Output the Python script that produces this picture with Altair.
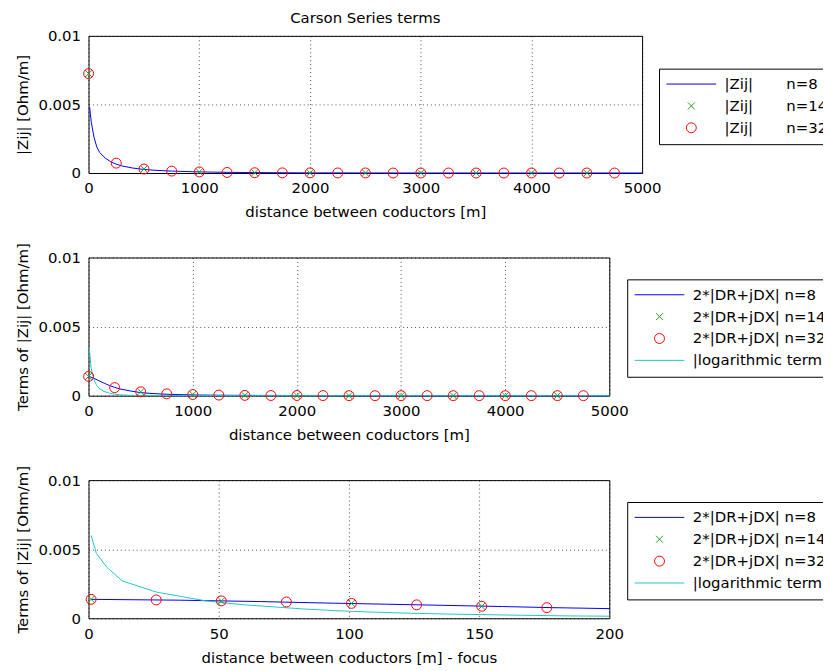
import altair as alt
import pandas as pd

FONT = "DejaVu Sans"
NB = "\u00a0"

# ---------------- Panel 1 : |Zij| ----------------
p1_line_x = [10, 25, 50, 75, 100, 150, 200, 250, 300, 400, 500, 600, 750, 1000, 1250, 1500, 2000, 3000, 5000]
p1_line_y = [0.0048, 0.0037, 0.0026, 0.0019, 0.0015, 0.0011, 0.00082, 0.00065, 0.00052, 0.00036, 0.00026,
             0.0002, 0.00014, 0.00008, 0.00005, 0.00003, 0.00001, 0.0, 0.0]
p1_x14_x = [1, 501, 1001, 1501, 2001, 2501, 3001, 3501, 4001, 4501]
p1_x14_y = [0.00725, 0.00029, 0.00008, 0.00002, 0.00001, 0.000005, 0.0, 0.0, 0.0, 0.0]
p1_o32_x = [1, 251, 501, 751, 1001, 1251, 1501, 1751, 2001, 2251, 2501, 2751, 3001, 3251, 3501, 3751,
            4001, 4251, 4501, 4751]
p1_o32_y = [0.00725, 0.00072, 0.00029, 0.00014, 0.00008, 0.00004, 0.00002, 0.00001, 0.00001, 0.000005,
            0.000005, 0.0, 0.0, 0.0, 0.0, 0.0, 0.0, 0.0, 0.0, 0.0]
p1_labels = ["|Zij|" + NB * 7 + "n=8", "|Zij|" + NB * 7 + "n=14", "|Zij|" + NB * 7 + "n=32"]

# ---------------- Panel 2 : terms ----------------
p2_line_x = [8, 50, 100, 150, 200, 250, 300, 400, 500, 600, 750, 1000, 1250, 1500, 2000, 3000, 5000]
p2_line_y = [0.00138, 0.00126, 0.00108, 0.0009, 0.00074, 0.0006, 0.00049, 0.00034, 0.00022, 0.00016,
             0.0001, 0.00005, 0.00003, 0.00002, 0.00001, 0.0, 0.0]
p2_log_x = [8, 25, 50, 75, 100, 150, 200, 250, 300, 400, 500, 750, 1000, 5000]
p2_log_y = [0.0034, 0.0020, 0.0012, 0.0008, 0.00053, 0.0003, 0.00018, 0.00011, 0.00006, 0.00002,
            0.00001, 0.0, 0.0, 0.0]
p2_x14_x = p1_x14_x
p2_x14_y = [0.00139, 0.00028, 0.00008, 0.00002, 0.00001, 0.0, 0.0, 0.0, 0.0, 0.0]
p2_o32_x = p1_o32_x
p2_o32_y = [0.00139, 0.00058, 0.00028, 0.00013, 0.00008, 0.00004, 0.00002, 0.00001, 0.00001, 0.000005,
            0.0, 0.0, 0.0, 0.0, 0.0, 0.0, 0.0, 0.0, 0.0, 0.0]

# ---------------- Panel 3 : focus ----------------
p3_line_x = [1, 35, 50, 66, 82, 95, 114, 133, 159, 178, 200]
p3_line_y = [0.00137, 0.00131, 0.00126, 0.00121, 0.00114, 0.00109, 0.00102, 0.00095, 0.00085, 0.00077, 0.0007]
p3_log_x = [1, 3, 7, 13, 26, 45, 60, 73, 82, 95, 107, 120, 139, 150, 166, 185, 200]
p3_log_y = [0.0060, 0.0047, 0.0037, 0.0027, 0.0019, 0.00126, 0.00097, 0.0008, 0.00068, 0.00055, 0.00046,
            0.00038, 0.0003, 0.00027, 0.00022, 0.00017, 0.00015]
p3_x14_x = [1, 51, 101, 151]
p3_x14_y = [0.00137, 0.00126, 0.00108, 0.00087]
p3_o32_x = [1, 26, 51, 76, 101, 126, 151, 176]
p3_o32_y = [0.00137, 0.00133, 0.00126, 0.00118, 0.00108, 0.00097, 0.00087, 0.00077]

terms_labels = ["2*|DR+jDX| n=8", "2*|DR+jDX| n=14", "2*|DR+jDX| n=32", "|logarithmic term|"]

BLUE, GREEN, RED, CYAN = "#0000ff", "#2a9a2a", "#ff0000", "#20c8c8"
LINE_SHAPE = "M-5,0L5,0"
X_SHAPE = "M-0.7,-0.7L0.7,0.7M-0.7,0.7L0.7,-0.7"


def make_df(series):
    rows = []
    for lab, xs, ys in series:
        for x, y in zip(xs, ys):
            rows.append({"x": x, "y": y, "s": lab})
    return pd.DataFrame(rows)


def panel(lines, line_colors, points, labels, colors, shapes, xdom, xticks, xtitle, ytitle, w, h, lx, ly,
          title=None):
    legend = alt.Legend(title=None, orient="none", legendX=lx, legendY=ly)
    xenc = alt.X("x:Q", scale=alt.Scale(domain=xdom, nice=False, zero=False, padding=0),
                 axis=alt.Axis(values=xticks, format="d", title=xtitle))
    yenc = alt.Y("y:Q", scale=alt.Scale(domain=[0, 0.01], nice=False, padding=0),
                 axis=alt.Axis(values=[0, 0.005, 0.01], format="~g", title=ytitle))
    line_labels = [lab for lab, _, _ in lines]
    # curves: stroke channel with its own (different) domain and no legend
    line_layer = alt.Chart(make_df(lines)).mark_line(strokeWidth=1).encode(
        x=xenc, y=yenc,
        stroke=alt.Stroke("s:N", scale=alt.Scale(domain=line_labels, range=line_colors), legend=None))
    # markers: color + shape, one merged legend listing every series
    pt_layer = alt.Chart(make_df(points)).mark_point(filled=False, size=100, strokeWidth=1, opacity=1).encode(
        x=xenc, y=yenc,
        color=alt.Color("s:N", scale=alt.Scale(domain=labels, range=colors), legend=legend),
        shape=alt.Shape("s:N", scale=alt.Scale(domain=labels, range=shapes), legend=legend))
    ch = alt.layer(line_layer, pt_layer).properties(width=w, height=h)
    if title:
        ch = ch.properties(title=alt.TitleParams(title, font=FONT, fontSize=15, fontWeight="normal",
                                                 anchor="middle", frame="group", offset=3, color="black"))
    return ch


c1 = panel(
    [(p1_labels[0], p1_line_x, p1_line_y)], [BLUE],
    [(p1_labels[1], p1_x14_x, p1_x14_y), (p1_labels[2], p1_o32_x, p1_o32_y)],
    p1_labels, [BLUE, GREEN, RED], [LINE_SHAPE, X_SHAPE, "circle"],
    [0, 5000], [0, 1000, 2000, 3000, 4000, 5000], "distance between coductors [m]", "|Zij| [Ohm/m]",
    557, 138, 574, 33, title="Carson Series terms")

c2 = panel(
    [(terms_labels[0], p2_line_x, p2_line_y), (terms_labels[3], p2_log_x, p2_log_y)], [BLUE, CYAN],
    [(terms_labels[1], p2_x14_x, p2_x14_y), (terms_labels[2], p2_o32_x, p2_o32_y)],
    terms_labels, [BLUE, GREEN, RED, CYAN], [LINE_SHAPE, X_SHAPE, "circle", LINE_SHAPE],
    [0, 5000], [0, 1000, 2000, 3000, 4000, 5000], "distance between coductors [m]",
    "Terms of |Zij| [Ohm/m]", 524, 139, 542, 22)

c3 = panel(
    [(terms_labels[0], p3_line_x, p3_line_y), (terms_labels[3], p3_log_x, p3_log_y)], [BLUE, CYAN],
    [(terms_labels[1], p3_x14_x, p3_x14_y), (terms_labels[2], p3_o32_x, p3_o32_y)],
    terms_labels, [BLUE, GREEN, RED, CYAN], [LINE_SHAPE, X_SHAPE, "circle", LINE_SHAPE],
    [0, 200], [0, 50, 100, 150, 200], "distance between coductors [m] - focus",
    "Terms of |Zij| [Ohm/m]", 524, 139, 542, 22)

chart = alt.vconcat(c1, c2, c3, spacing=21).resolve_scale(
    x="independent", y="independent", color="independent", shape="independent", stroke="independent"
).resolve_legend(color="independent", shape="independent").properties(
    padding={"left": 7, "top": 0, "right": -14, "bottom": 0}
).configure_view(stroke="black", strokeWidth=1).configure_axis(
    grid=True, gridColor="black", gridDash=[1, 3], gridOpacity=0.7, gridWidth=1,
    domain=False, ticks=False, labelFlush=False,
    labelFont=FONT, labelFontSize=15, labelColor="black", labelPadding=8,
    titleFont=FONT, titleFontSize=15, titleFontWeight="normal", titleColor="black", titlePadding=9,
).configure_axisY(titlePadding=7).configure_legend(
    labelFont=FONT, labelFontSize=15, labelColor="black", labelLimit=500,
    strokeColor="black", fillColor="white", padding=8,
    symbolSize=100, symbolStrokeWidth=1, symbolOffset=17, labelOffset=26, rowPadding=6,
)

chart.save("out.html", embed_options={"renderer": "svg", "actions": False})
